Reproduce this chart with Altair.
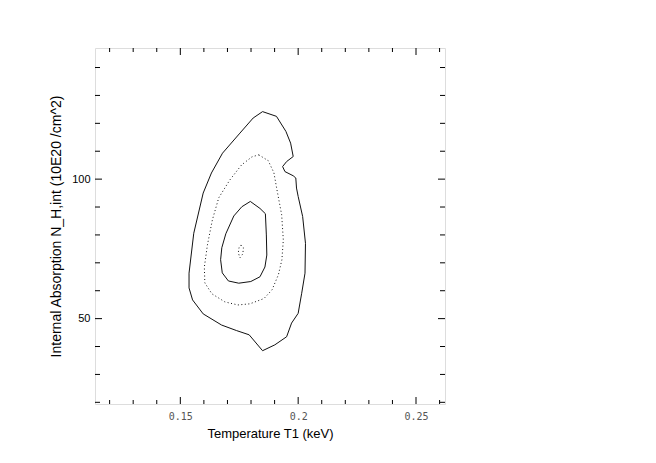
import altair as alt
import pandas as pd

# ---- data ----
outer_x = [0.1849, 0.1908, 0.1948, 0.1968, 0.1979, 0.1951, 0.1934, 0.1944, 0.1979, 0.1990,
           0.1993, 0.2000, 0.2019, 0.2031, 0.2029, 0.2015, 0.2000, 0.1972, 0.1951, 0.1901,
           0.1849, 0.1792, 0.1739, 0.1675, 0.1597, 0.1552, 0.1537, 0.1537, 0.1557, 0.1597,
           0.1632, 0.1679, 0.1753, 0.1809, 0.1849]
outer_y = [124.2, 122.5, 117.1, 112.9, 108.1, 106.3, 104.5, 102.7, 101.2, 100.4,
           96.8, 93.8, 86.6, 77.0, 66.3, 59.1, 51.9, 48.4, 43.5, 40.6,
           38.5, 44.2, 45.7, 47.7, 51.7, 56.7, 61.0, 66.3, 80.6, 95.0,
           102.2, 109.3, 116.5, 121.9, 124.2]

dotted_x = [0.1833, 0.1873, 0.1897, 0.1910, 0.1930, 0.1937, 0.1931, 0.1916, 0.1889, 0.1855,
            0.1795, 0.1744, 0.1689, 0.1634, 0.1604, 0.1602, 0.1615, 0.1636, 0.1663, 0.1710,
            0.1760, 0.1804, 0.1833]
dotted_y = [108.7, 106.6, 102.3, 96.2, 87.2, 78.2, 71.1, 65.7, 60.3, 57.2,
            55.3, 54.9, 56.0, 58.9, 62.8, 68.5, 76.4, 85.4, 93.3, 99.7,
            105.1, 108.0, 108.7]

inner_x = [0.1797, 0.1838, 0.1861, 0.1865, 0.1867, 0.1859, 0.1838, 0.1799, 0.1748, 0.1704,
           0.1678, 0.1671, 0.1676, 0.1693, 0.1727, 0.1761, 0.1797]
inner_y = [92.0, 89.5, 87.6, 80.0, 72.8, 68.5, 65.0, 63.3, 62.7, 63.5,
           66.4, 71.1, 75.4, 80.4, 86.8, 90.1, 92.0]

best_x = [0.1757, 0.1768, 0.1765, 0.1753, 0.1746, 0.1749, 0.1757]
best_y = [76.4, 75.4, 73.2, 71.8, 73.6, 75.4, 76.4]

x_major = [0.15, 0.2, 0.25]
x_minor = [0.12, 0.13, 0.14, 0.16, 0.17, 0.18, 0.19, 0.21, 0.22, 0.23, 0.24, 0.26]
y_major = [50, 100]
y_minor = [20, 30, 40, 60, 70, 80, 90, 110, 120, 130, 140]

x_domain = [0.1138, 0.2623]
y_domain = [19.4, 147.0]

x_title = "Temperature T1 (keV)"
y_title = "Internal Absorption N_H,int (10E20 /cm^2)"

W, H = 350, 356

# ---- build tables ----
def loop(xs, ys, name):
    return pd.DataFrame({"x": xs, "y": ys, "ord": list(range(len(xs))), "level": name})

solid = pd.concat([loop(outer_x, outer_y, "outer"), loop(inner_x, inner_y, "inner")])
dotted = pd.concat([loop(dotted_x, dotted_y, "mid"), loop(best_x, best_y, "best")])

xscale = alt.Scale(domain=x_domain, nice=False, zero=False)
yscale = alt.Scale(domain=y_domain, nice=False, zero=False)

xaxis = alt.Axis(values=x_major, format=".2~f", ticks=False, domain=False, grid=False,
                 labelFont="DejaVu Sans Mono", labelFontSize=10, labelColor="#555555",
                 labelPadding=7, title=x_title, titleFont="Liberation Sans",
                 titleFontSize=13, titleFontWeight="normal", titleColor="black",
                 titlePadding=6)
yaxis = alt.Axis(values=y_major, ticks=False, domain=False, grid=False,
                 labelFont="Liberation Sans", labelFontSize=11, labelColor="black",
                 labelPadding=5, title=y_title, titleFont="Liberation Sans",
                 titleFontSize=14, titleFontWeight="normal", titleColor="black",
                 titlePadding=8)

X = alt.X("x:Q", scale=xscale, axis=xaxis)
Y = alt.Y("y:Q", scale=yscale, axis=yaxis)

solid_layer = alt.Chart(solid).mark_line(color="#111111", strokeWidth=1).encode(
    x=X, y=Y, detail="level:N", order="ord:Q")
dotted_layer = alt.Chart(dotted).mark_line(color="#111111", strokeWidth=1,
                                           strokeDash=[1, 2.5]).encode(
    x=X, y=Y, detail="level:N", order="ord:Q")

def xticks(vals, length):
    df = pd.DataFrame({"x": vals})
    bottom = alt.Chart(df).mark_rule(color="black", strokeWidth=1).encode(
        x=X, y=alt.value(H), y2=alt.value(H - length))
    top = alt.Chart(df).mark_rule(color="black", strokeWidth=1).encode(
        x=X, y=alt.value(0), y2=alt.value(length))
    return [bottom, top]

def yticks(vals, length):
    df = pd.DataFrame({"y": vals})
    left = alt.Chart(df).mark_rule(color="black", strokeWidth=1).encode(
        y=Y, x=alt.value(0), x2=alt.value(length))
    right = alt.Chart(df).mark_rule(color="black", strokeWidth=1).encode(
        y=Y, x=alt.value(W), x2=alt.value(W - length))
    return [left, right]

layers = [solid_layer, dotted_layer] + xticks(x_minor, 4) + xticks(x_major, 7) \
    + yticks(y_minor, 5) + yticks(y_major, 7)

chart = alt.layer(*layers).properties(
    width=W, height=H,
    autosize=alt.AutoSizeParams(type="none"),
    padding={"left": 87, "top": 40, "right": 20, "bottom": 50},
).configure_view(stroke="black", strokeWidth=1).configure(background="white")

chart.save("out.html", embed_options={"renderer": "svg", "actions": False})
